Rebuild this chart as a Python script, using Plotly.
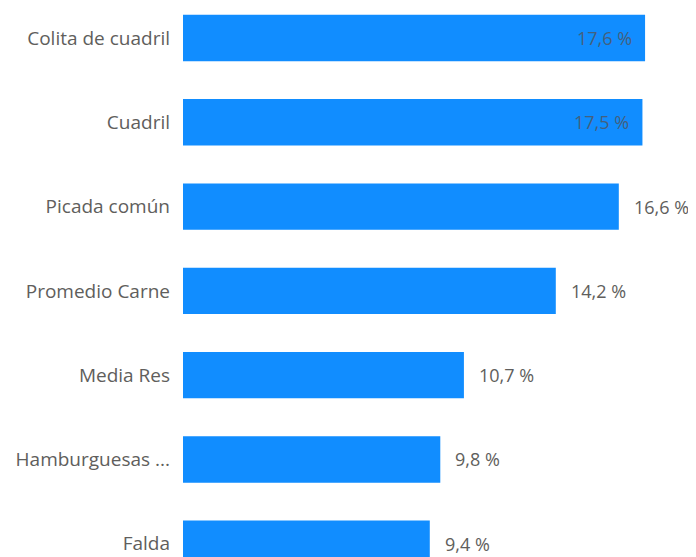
import plotly.graph_objects as go

categories = ["Colita de cuadril", "Cuadril", "Picada común", "Promedio Carne",
              "Media Res", "Hamburguesas ...", "Falda"]
values = [17.6, 17.5, 16.6, 14.2, 10.7, 9.8, 9.4]
inside_flags = [True, True, False, False, False, False, False]

labels = [f"{v:.1f} %".replace(".", ",") for v in values]

fig = go.Figure()
fig.add_trace(go.Bar(
    x=values, y=categories, orientation="h",
    marker=dict(color="#118DFF", line=dict(width=0)),
    width=0.55, hoverinfo="skip",
))

for c, v, t, ins in zip(categories, values, labels, inside_flags):
    fig.add_annotation(
        x=v, y=c, text=t, showarrow=False,
        xanchor="right" if ins else "left",
        xshift=-11 if ins else 13,
        font=dict(family="Open Sans", size=18,
                  color="#44607E" if ins else "#605E5C"),
    )

fig.update_layout(
    width=688, height=549,
    margin=dict(l=175, r=0, t=0, b=0, autoexpand=False),
    paper_bgcolor="white", plot_bgcolor="white",
    showlegend=False,
    font=dict(family="Open Sans", size=19, color="#605E5C"),
)
fig.update_xaxes(range=[0, 19.54], visible=False, fixedrange=True)
fig.update_yaxes(
    type="category", range=[6.157, -0.356],
    showgrid=False, zeroline=False, showline=False, ticks="",
    ticklabelstandoff=12, automargin=False,
    tickfont=dict(family="Open Sans", size=19, color="#605E5C"),
)

fig.write_html("out.html")
